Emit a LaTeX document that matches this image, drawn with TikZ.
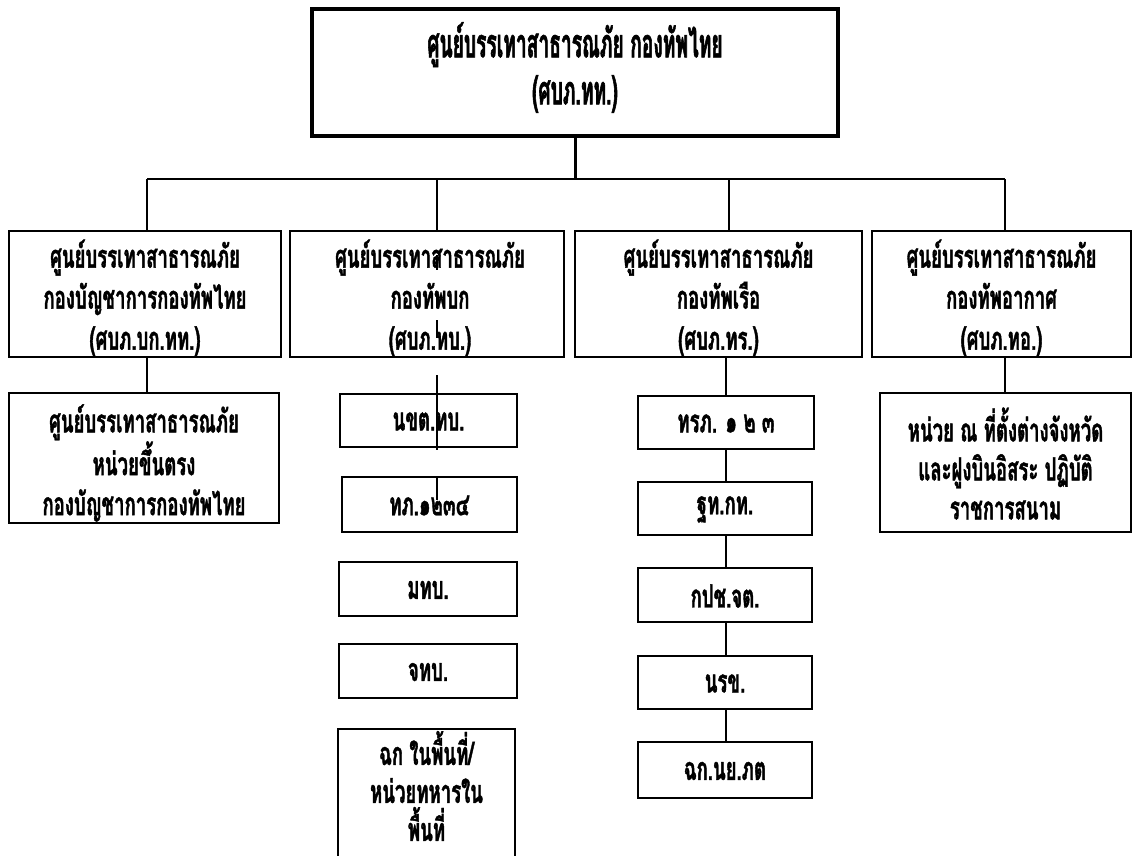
\documentclass[tikz,border=0pt]{standalone}
\usepackage{fontspec}
\usetikzlibrary{calc}
\newfontfamily\thaifont[Script=Thai,FakeStretch=0.58,FakeBold=1.2]{Loma}
\newfontfamily\thaitop[Script=Thai,FakeStretch=0.48,FakeBold=1.4]{Loma}
\begin{document}
\begin{tikzpicture}[x=1pt,y=-1pt,
  box/.style={draw, line width=1.3pt, fill=white, inner sep=0pt},
  topbox/.style={box, line width=3.2pt},
  txt/.style={inner sep=0pt, align=center, font=\thaifont\bfseries\fontsize{32}{41}\selectfont},
  txtb/.style={txt, font=\thaifont\bfseries\fontsize{32}{40}\selectfont},
  toptxt/.style={txt, font=\thaitop\bfseries\fontsize{40}{47}\selectfont},
  conn/.style={line width=1.3pt},
  thick conn/.style={line width=3pt}]
\useasboundingbox[fill=white] (0,0) rectangle (1134,855);
\begin{scope}
\clip (0,0) rectangle (1134,855);
% top
\node[topbox, minimum width=526pt, minimum height=127pt] (top) at (575,72.5) {};
\node[toptxt] (topt) at ($(top)+(0,-5)$) {ศูนย์บรรเทาสาธารณภัย กองทัพไทย\\(ศบภ.ทท.)};
% level 2
\node[box, minimum width=272pt, minimum height=126pt] (b1) at (145,294) {};
\node[box, minimum width=274pt, minimum height=126pt] (b2) at (427,294) {};
\node[box, minimum width=287pt, minimum height=126pt] (b3) at (718.5,294) {};
\node[box, minimum width=259pt, minimum height=126pt] (b4) at (1001.5,294) {};
\node[txt] (b1t) at ($(b1)+(0,4)$) {ศูนย์บรรเทาสาธารณภัย\\กองบัญชาการกองทัพไทย\\(ศบภ.บก.ทท.)};
\node[txt] (b2t) at ($(b2)+(3,4)$) {ศูนย์บรรเทาสาธารณภัย\\กองทัพบก\\(ศบภ.ทบ.)};
\node[txt] (b3t) at ($(b3)+(0,4)$) {ศูนย์บรรเทาสาธารณภัย\\กองทัพเรือ\\(ศบภ.ทร.)};
\node[txt] (b4t) at ($(b4)+(0,4)$) {ศูนย์บรรเทาสาธารณภัย\\กองทัพอากาศ\\(ศบภ.ทอ.)};
% children of b1
\node[box, minimum width=270pt, minimum height=130pt] (c1) at (144,458) {};
\node[txtb] (c1t) at ($(c1)+(0,5)$) {ศูนย์บรรเทาสาธารณภัย\\หน่วยขึ้นตรง\\กองบัญชาการกองทัพไทย};
% army children
\node[box, minimum width=177pt, minimum height=53pt] (a1) at (428.5,420.5) {};
\node[box, minimum width=175pt, minimum height=55pt] (a2) at (429.5,504.5) {};
\node[box, minimum width=178pt, minimum height=54pt] (a3) at (428,589) {};
\node[box, minimum width=178pt, minimum height=54pt] (a4) at (428,671) {};
\node[box, minimum width=177pt, minimum height=130pt] (a5) at (426.5,794) {};
\node[txt] (a1t) at ($(a1)+(0,1)$) {นขต.ทบ.};
\node[txt] (a2t) at ($(a2)+(0,1)$) {ทภ.๑๒๓๔};
\node[txt] (a3t) at ($(a3)+(0,1)$) {มทบ.};
\node[txt] (a4t) at ($(a4)+(0,1)$) {จทบ.};
\node[txt, font=\thaifont\bfseries\fontsize{32}{38}\selectfont] (a5t) at ($(a5)+(0,-8)$) {ฉก ในพื้นที่/\\หน่วยทหารใน\\พื้นที่};
% navy children
\node[box, minimum width=176pt, minimum height=53pt] (n1) at (726,422.5) {};
\node[box, minimum width=174pt, minimum height=53pt] (n2) at (725,508.5) {};
\node[box, minimum width=174pt, minimum height=54pt] (n3) at (725,595) {};
\node[box, minimum width=174pt, minimum height=53pt] (n4) at (725,682.5) {};
\node[box, minimum width=174pt, minimum height=56pt] (n5) at (725,770) {};
\node[txt] (n1t) at ($(n1)+(0,1)$) {ทรภ. ๑ ๒ ๓};
\node[txt] (n2t) at ($(n2)+(0,1)$) {ฐท.กท.};
\node[txt] (n3t) at ($(n3)+(0,1)$) {กปช.จต.};
\node[txt] (n4t) at ($(n4)+(0,1)$) {นรข.};
\node[txt] (n5t) at ($(n5)+(0,1)$) {ฉก.นย.ภต};
% air child
\node[box, minimum width=251pt, minimum height=139pt] (f1) at (1005.5,462.5) {};
\node[txt, font=\thaifont\bfseries\fontsize{32}{39}\selectfont] (f1t) at ($(f1)+(0,1)$)
  {หน่วย ณ ที่ตั้งต่างจังหวัด\\และฝูงบินอิสระ ปฏิบัติ\\ราชการสนาม};
% connectors
\coordinate (t1) at (147,179);
\coordinate (t2) at (437,179);
\coordinate (t3) at (729,179);
\coordinate (t4) at (1005,179);
\draw[thick conn] (top.south) -- (top.south |- t1);
\draw[conn] (t1) -- (t4);
\draw[conn] (t1) -- (t1 |- b1.north);
\draw[conn] (t2) -- (t2 |- b2.north);
\draw[conn] (t3) -- (t3 |- b3.north);
\draw[conn] (t4) -- (t4 |- b4.north);
\draw[conn] (t1 |- b1.south) -- (t1 |- c1.north);
\draw[conn] (t4 |- b4.south) -- (t4 |- f1.north);
\draw[conn] (n1.north |- b3.south) -- (n1.north);
\draw[conn] (n1.south) -- (n1.south |- n2.north);
\draw[conn] (n1.south |- n2.south) -- (n1.south |- n3.north);
\draw[conn] (n1.south |- n3.south) -- (n1.south |- n4.north);
\draw[conn] (n1.south |- n4.south) -- (n1.south |- n5.north);
% army line fragments drawn across the boxes
\draw[conn] (t2 |- 0,255) -- (t2 |- 0,270);
\draw[conn] (t2 |- 0,292) -- (t2 |- 0,308);
\draw[conn] (t2 |- 0,320) -- (t2 |- 0,338);
\draw[conn] (t2 |- 0,375) -- (t2 |- 0,450);
\draw[conn] (t2 |- a2.north) -- (t2 |- 0,500);
\end{scope}
\end{tikzpicture}
\end{document}
